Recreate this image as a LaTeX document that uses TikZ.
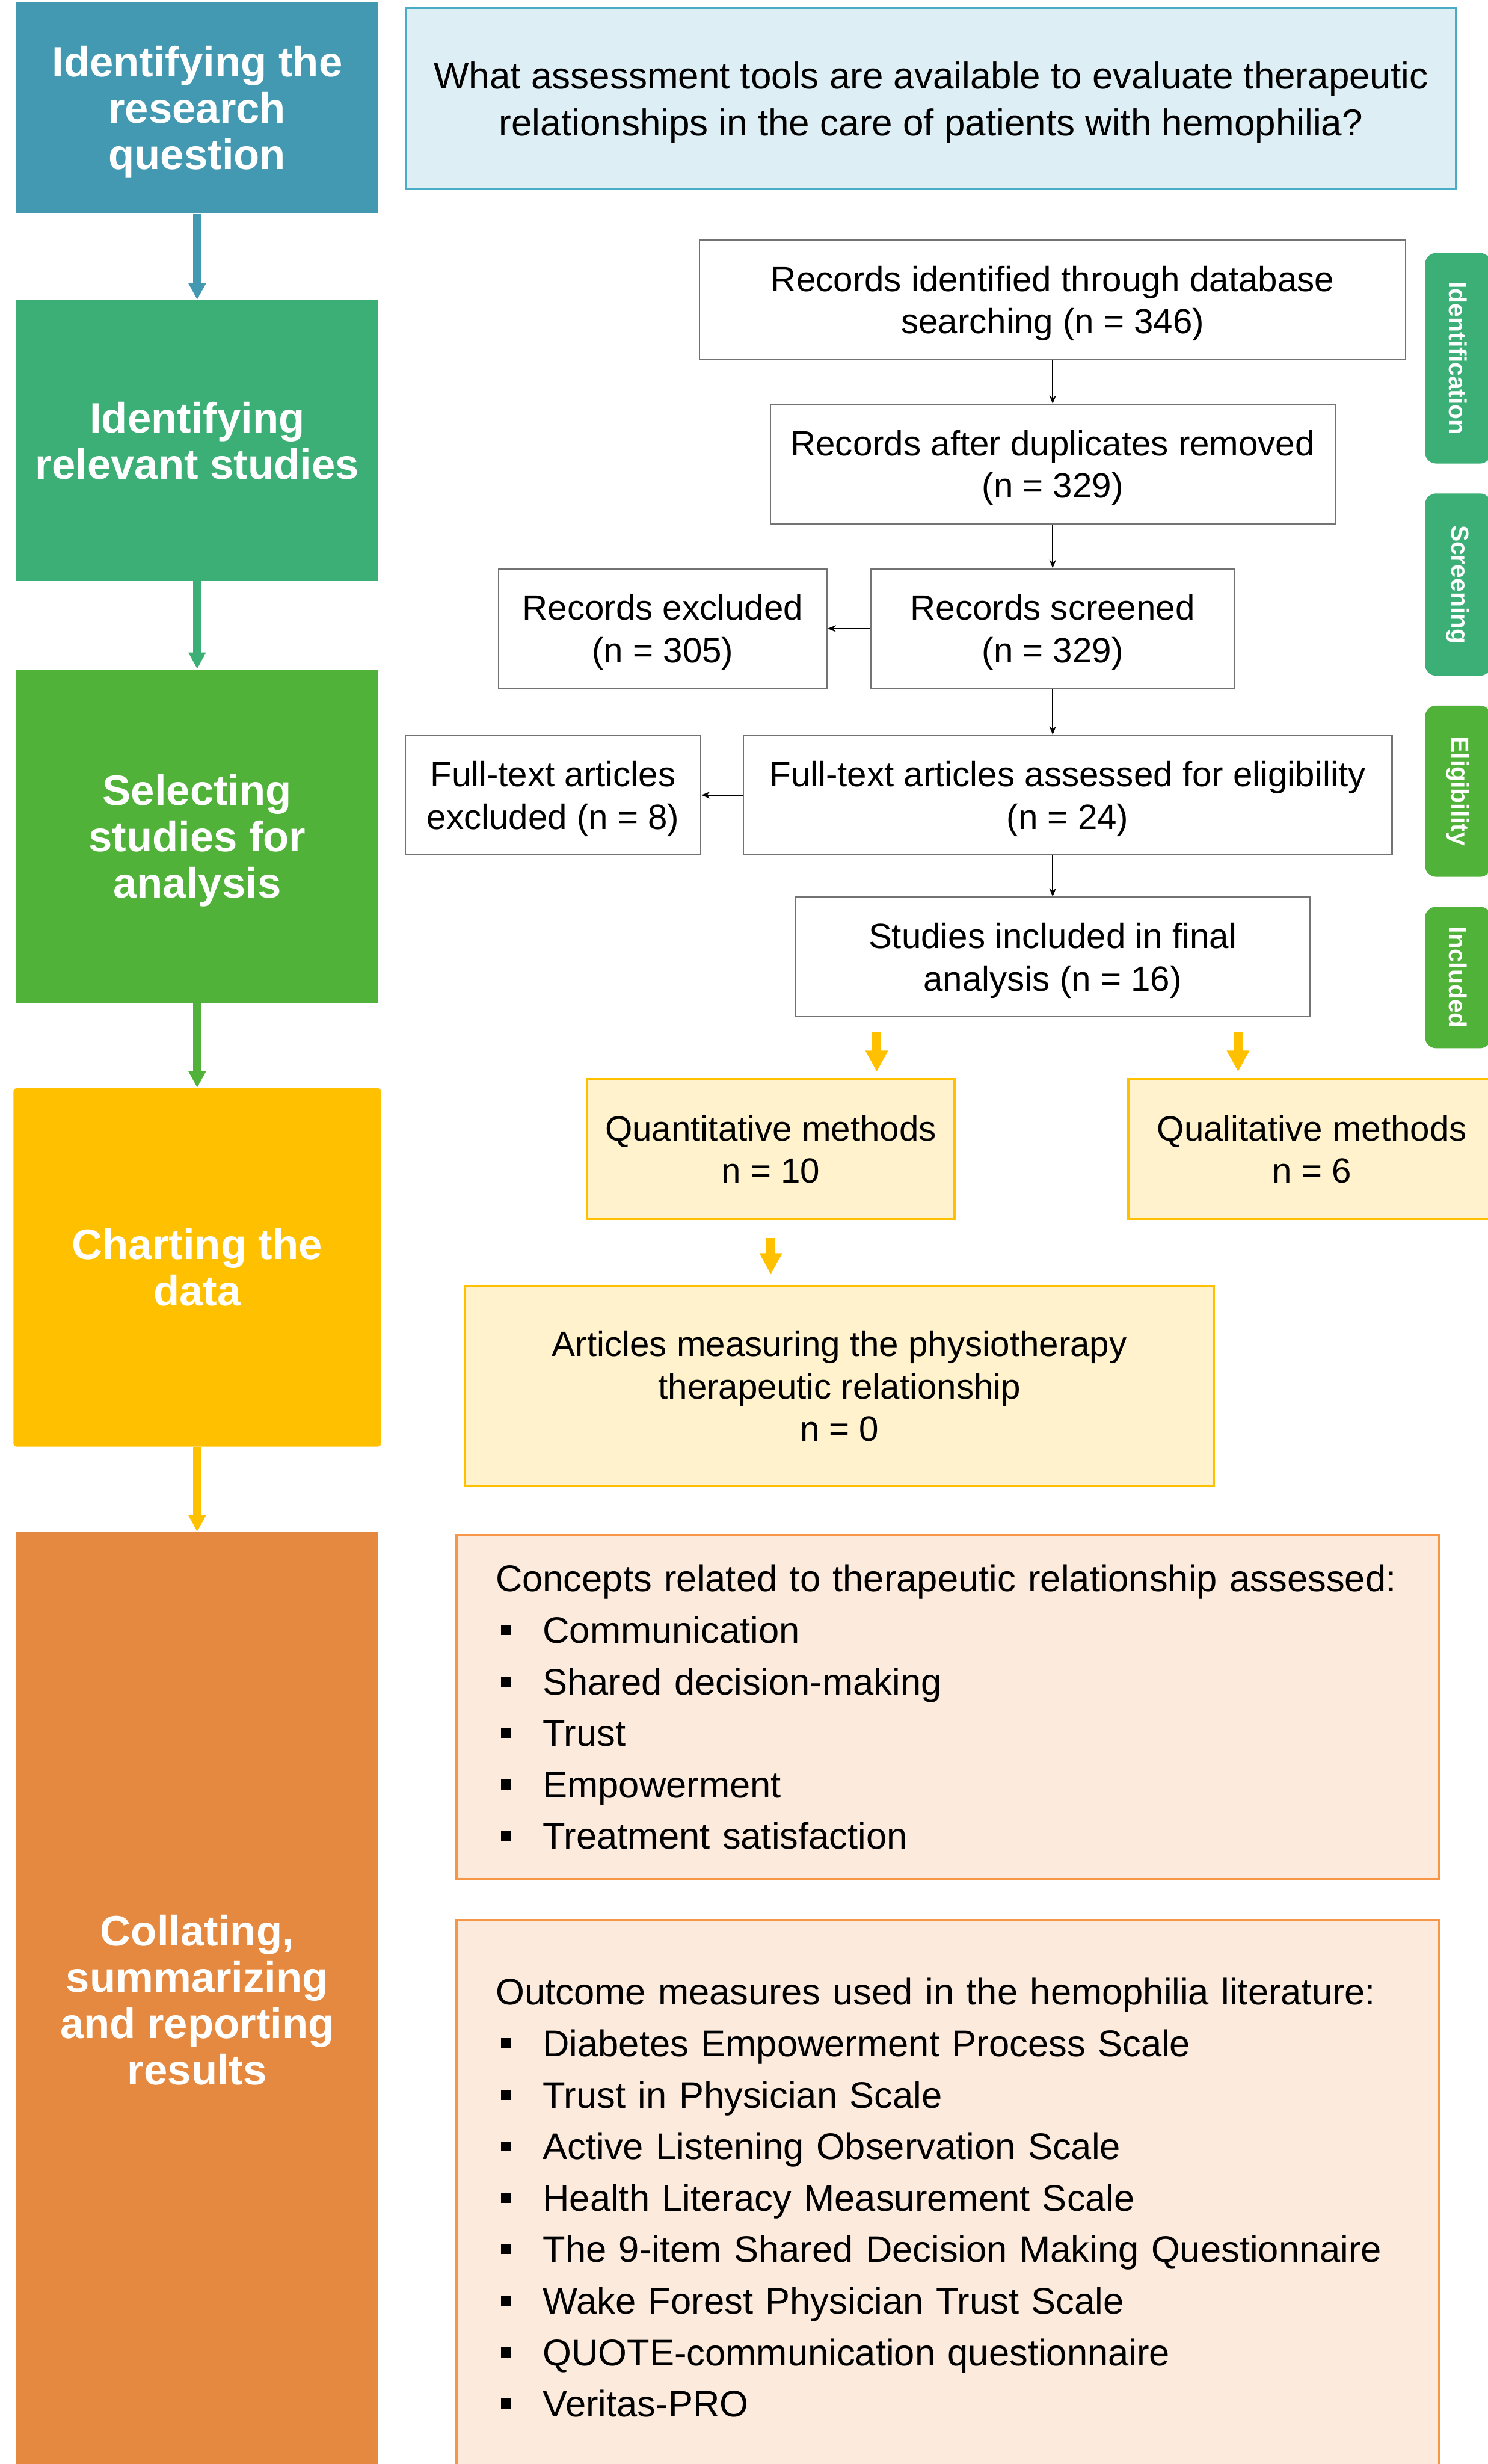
\documentclass[tikz,border=0pt]{standalone}
\usepackage{fontspec}
\setmainfont{Liberation Sans}
\usepackage{xcolor}
\usetikzlibrary{shapes, arrows.meta}

\definecolor{stageteal}{HTML}{4398B2}
\definecolor{stagegreen}{HTML}{3CAF76}
\definecolor{stagelime}{HTML}{50B238}
\definecolor{stagegold}{HTML}{FFC000}
\definecolor{stageorange}{HTML}{E4893F}
\definecolor{questfill}{HTML}{DEEEF5}
\definecolor{questline}{HTML}{4BACC6}
\definecolor{goldfill}{HTML}{FFF2CC}
\definecolor{peachfill}{HTML}{FCEBDC}
\definecolor{peachline}{HTML}{F79646}

\newcommand{\stagesize}{\fontsize{15.4}{16.8}\selectfont\bfseries}
\newcommand{\prismasize}{\fontsize{12.7}{15.3}\selectfont}
\newcommand{\questsize}{\fontsize{13.5}{16.8}\selectfont}
\newcommand{\listsize}{\fontsize{13.4}{18.65}\selectfont}
\newcommand{\tabsize}{\fontsize{8.9}{10}\selectfont\bfseries}
\newcommand{\sqbullet}{\makebox[0.6cm][l]{\hspace{0.07cm}\rule[0.22em]{0.27em}{0.27em}}}

\begin{document}
\begin{tikzpicture}[x=0.02cm, y=-0.02cm]

\tikzstyle{stage} = [rectangle, text centered, align=center, text=white, font=\stagesize, text depth=0pt, inner sep=0pt, minimum width=4.6cm]
\tikzstyle{prisma} = [rectangle, text centered, align=center, draw=black!55, line width=0.5pt, fill=white, font=\prismasize, text depth=0pt, inner sep=0pt, minimum height=1.52cm]
\tikzstyle{phase} = [rectangle, rounded corners=0.14cm, text centered, text=white, font=\tabsize, rotate=-90, inner sep=0pt, minimum height=0.84cm]
\tikzstyle{result} = [rectangle, text centered, align=center, draw=stagegold, fill=goldfill, line width=0.8pt, font=\prismasize, text depth=0pt, inner sep=0pt]
\tikzstyle{findings} = [rectangle, align=left, draw=peachline, fill=peachfill, line width=0.8pt, font=\listsize, inner xsep=0.5cm, inner ysep=0pt, text width=11.51cm]
\tikzstyle{arrow} = [line width=0.5pt, -{Stealth[length=3pt, width=2.4pt]}]
\tikzstyle{stagearrow} = [line width=0.1cm, -{Triangle[length=0.21cm, width=0.21cm]}]
\tikzstyle{goldarrow} = [line width=0.12cm, draw=stagegold, -{Triangle[length=0.27cm, width=0.27cm]}]

\clip (0,0) rectangle (947,1568);

% stages of the review
\node (quest) [stage, fill=stageteal, minimum height=2.68cm] at (125.5,68.4) {Identifying the\\research\\question};
\node (relev) [stage, fill=stagegreen, minimum height=3.57cm] at (125.5,280.3) {Identifying\\relevant studies};
\node (select) [stage, fill=stagelime, minimum height=4.24cm] at (125.5,532) {Selecting\\studies for\\analysis};
\node (chart) [stage, fill=stagegold, minimum width=4.68cm, minimum height=4.56cm, rounded corners=1pt] at (125.5,806.5) {Charting the\\data};
\node (collate) [stage, fill=stageorange, minimum height=11.9cm] at (125.5,1272.5) {Collating,\\summarizing\\and reporting\\results};

\draw [stagearrow, draw=stageteal] (quest) -- (relev);
\draw [stagearrow, draw=stagegreen] (relev) -- (select);
\draw [stagearrow, draw=stagelime] (select) -- (chart);
\draw [stagearrow, draw=stagegold] (chart) -- (collate);

% research question
\node (rq) [rectangle, text centered, align=center, draw=questline, fill=questfill, line width=0.7pt, font=\questsize, text depth=0pt, inner sep=0pt, minimum width=13.37cm, minimum height=2.3cm] at (592.6,62.8) {What assessment tools are available to evaluate therapeutic\\relationships in the care of patients with hemophilia?};

% PRISMA flow
\node (ident) [prisma, minimum width=8.99cm] at (670,190.7) {Records identified through database\\searching (n = 346)};
\node (dup) [prisma, minimum width=7.19cm] at (670,295.4) {Records after duplicates removed\\(n = 329)};
\node (screen) [prisma, minimum width=4.62cm] at (670,400) {Records screened\\(n = 329)};
\node (recexcl) [prisma, minimum width=4.18cm] at (421.8,400) {Records excluded\\(n = 305)};
\node (fulltext) [prisma, minimum width=8.26cm] at (679.5,506) {Full-text articles assessed for eligibility\\(n = 24)};
\node (ftexcl) [prisma, minimum width=3.76cm] at (352,506) {Full-text articles\\excluded (n = 8)};
\node (incl) [prisma, minimum width=6.56cm] at (670,609) {Studies included in final\\analysis (n = 16)};

\draw [arrow] (ident) -- (dup);
\draw [arrow] (dup) -- (screen);
\draw [arrow] (screen) -- (recexcl);
\draw [arrow] (screen.south) -- (screen.south |- fulltext.north);
\draw [arrow] (fulltext) -- (ftexcl);
\draw [arrow] (incl.north |- fulltext.south) -- (incl.north);

% phase tabs
\node (tident) [phase, fill=stagegreen, minimum width=2.68cm] at (928,228) {Identification};
\node (tscreen) [phase, fill=stagegreen, minimum width=2.32cm] at (928,372) {Screening};
\node (telig) [phase, fill=stagelime, minimum width=2.18cm] at (928,503.5) {Eligibility};
\node (tincl) [phase, fill=stagelime, minimum width=1.8cm] at (928,622) {Included};

% charting
\node (quant) [result, minimum width=4.68cm, minimum height=1.78cm] at (490.6,731.2) {Quantitative methods\\n = 10};
\node (qual) [result, minimum width=4.68cm, minimum height=1.78cm] at (835,731.2) {Qualitative methods\\n = 6};
\node (physio) [result, minimum width=9.53cm, minimum height=2.55cm] at (534.3,882) {Articles measuring the physiotherapy\\therapeutic relationship\\n = 0};

\coordinate (qa) at (558,0);
\coordinate (qb) at (788,0);
\draw [goldarrow, shorten <=0.19cm, shorten >=0.08cm] (incl.south -| qa) -- (quant.north -| qa);
\draw [goldarrow, shorten <=0.19cm, shorten >=0.08cm] (incl.south -| qb) -- (qual.north -| qb);
\draw [goldarrow, shorten <=0.23cm, shorten >=0.13cm] (quant) -- (physio.north -| quant);

% collating
\node (concepts) [findings, minimum height=4.38cm] at (603.2,1086.4) {\mbox{Concepts related to therapeutic relationship assessed:}\\
\sqbullet Communication\\
\sqbullet Shared decision-making\\
\sqbullet Trust\\
\sqbullet Empowerment\\
\sqbullet Treatment satisfaction};
\node (measures) [findings, minimum height=7.06cm] at (603.2,1398.5) {\mbox{Outcome measures used in the hemophilia literature:}\\
\sqbullet Diabetes Empowerment Process Scale\\
\sqbullet Trust in Physician Scale\\
\sqbullet Active Listening Observation Scale\\
\sqbullet Health Literacy Measurement Scale\\
\sqbullet \mbox{The 9-item Shared Decision Making Questionnaire}\\
\sqbullet Wake Forest Physician Trust Scale\\
\sqbullet QUOTE-communication questionnaire\\
\sqbullet Veritas-PRO};
\end{tikzpicture}
\end{document}
